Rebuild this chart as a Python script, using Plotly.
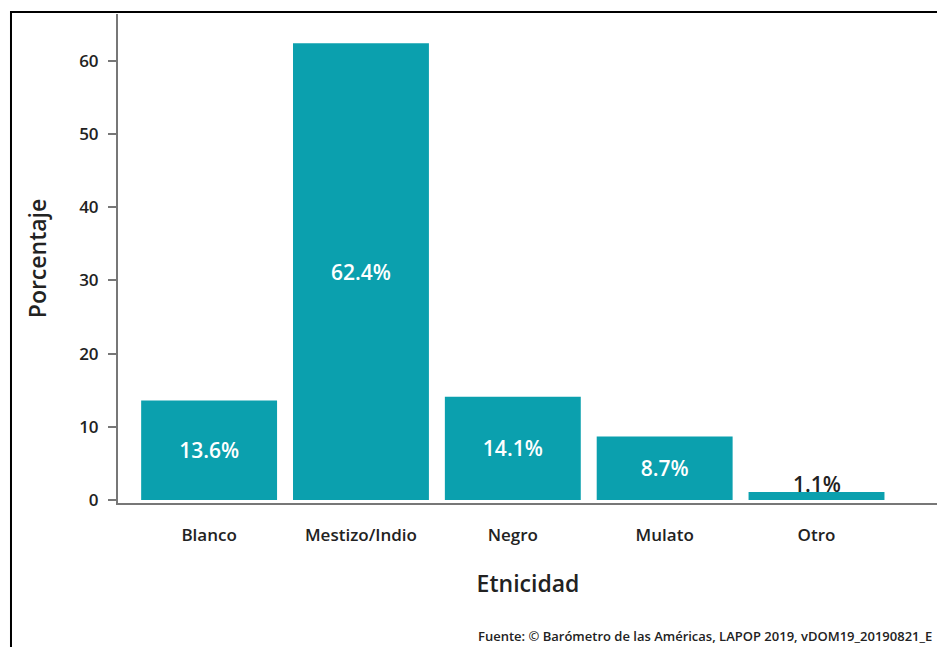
import plotly.graph_objects as go

categories = ["Blanco", "Mestizo/Indio", "Negro", "Mulato", "Otro"]
values = [13.6, 62.4, 14.1, 8.7, 1.1]
labels = ["13.6%", "62.4%", "14.1%", "8.7%", "1.1%"]
y_ticks = [0, 10, 20, 30, 40, 50, 60]

FONT = "Open Sans"
TEAL = "#0BA0AE"

inside_labels = [l if i < 4 else "" for i, l in enumerate(labels)]

fig = go.Figure()
fig.add_trace(go.Bar(
    x=categories, y=values, text=inside_labels,
    textposition="inside",
    insidetextanchor="middle",
    textfont=dict(family=FONT, size=21, color="white", weight=600),
    marker=dict(color=TEAL, line=dict(width=0)),
    constraintext="none",
))

fig.update_layout(
    width=937, height=639,
    margin=dict(l=110, r=7, t=6, b=144, autoexpand=False),
    paper_bgcolor="white", plot_bgcolor="white",
    bargap=0.105,
    showlegend=False,
    font=dict(family=FONT, color="#333333"),
    xaxis=dict(
        range=[-0.6, 4.8], showgrid=False, zeroline=False,
        showline=True, linecolor="#777777", linewidth=2,
        ticks="", ticklabelstandoff=16,
        tickfont=dict(family=FONT, size=17, color="#222222", weight=600),
        title=dict(text="Etnicidad", font=dict(family=FONT, size=23, color="#222222", weight=600), standoff=30),
    ),
    yaxis=dict(
        range=[-0.4, 66.4], showgrid=False, zeroline=False,
        showline=True, linecolor="#777777", linewidth=2,
        tickvals=y_ticks, ticks="outside", ticklen=8, tickcolor="#777777", tickwidth=2,
        tickfont=dict(family=FONT, size=17, color="#222222", weight=600),
        ticklabelstandoff=6,
        title=dict(text="Porcentaje", font=dict(family=FONT, size=23, color="#222222", weight=600), standoff=26),
    ),
    shapes=[dict(type="rect", xref="paper", yref="paper",
                 x0=-0.1305, x1=1.2, y0=-0.6, y1=1.004,
                 line=dict(color="black", width=2), fillcolor="rgba(0,0,0,0)", layer="above")],
    annotations=[
        dict(text=labels[4], x=categories[4], y=values[4], xref="x", yref="y",
             xanchor="center", yanchor="bottom", yshift=-8, showarrow=False,
             font=dict(family=FONT, size=21, color="#222222", weight=600)),
        dict(text="Fuente: © Barómetro de las Américas, LAPOP 2019, vDOM19_20190821_E",
             xref="paper", yref="paper", x=0.995, y=-0.272, xanchor="right", yanchor="middle",
             showarrow=False, font=dict(family=FONT, size=13, color="#222222", weight=600)),
    ],
)

fig.write_html("out.html")
